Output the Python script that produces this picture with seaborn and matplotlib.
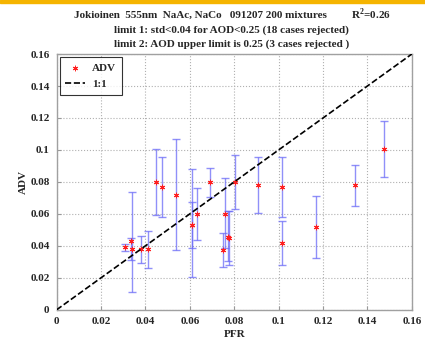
import numpy as np
import pandas as pd
import matplotlib
matplotlib.use("Agg")
import matplotlib.pyplot as plt
import seaborn as sns

# =====================================================
# Data
# =====================================================

pfr = [0.0308, 0.0335, 0.0339, 0.0380, 0.0410, 0.0450, 0.0476, 0.0539,
       0.0610, 0.0610, 0.0633, 0.0691, 0.0750, 0.0757, 0.0770, 0.0777,
       0.0804, 0.0907, 0.1015, 0.1015, 0.1169, 0.1345, 0.1475]
adv = [0.0392, 0.0430, 0.0380, 0.0379, 0.0380, 0.0798, 0.0767, 0.0719,
       0.0531, 0.0531, 0.0600, 0.0798, 0.0375, 0.0600, 0.0458, 0.0452,
       0.0798, 0.0779, 0.0767, 0.0417, 0.0519, 0.0779, 0.1008]
adv_hi = [0.0410, 0.0448, 0.0740, 0.0464, 0.0494, 0.1004, 0.0954, 0.1067,
          0.0880, 0.0673, 0.0765, 0.0890, 0.0480, 0.0823, 0.0619, 0.0619,
          0.0969, 0.0954, 0.0954, 0.0554, 0.0712, 0.0904, 0.1183]
adv_lo = [0.0367, 0.0310, 0.0114, 0.0292, 0.0260, 0.0594, 0.0583, 0.0375,
          0.0208, 0.0386, 0.0438, 0.0708, 0.0267, 0.0386, 0.0306, 0.0281,
          0.0629, 0.0604, 0.0579, 0.0283, 0.0323, 0.0650, 0.0829]

one_to_one = [0.0, 0.16]
tick_vals = [0, 0.02, 0.04, 0.06, 0.08, 0.1, 0.12, 0.14, 0.16]
tick_labels = ["0", "0.02", "0.04", "0.06", "0.08", "0.1", "0.12", "0.14", "0.16"]

title_lines = [
    "Jokioinen  555nm  NaAc, NaCo   091207 200 mixtures",
    "limit 1: std<0.04 for AOD<0.25 (18 cases rejected)",
    "limit 2: AOD upper limit is 0.25 (3 cases rejected )",
]
r2_text = "R$^{\\mathbf{2}}$=0.26"

df = pd.DataFrame({"PFR": pfr, "ADV": adv, "hi": adv_hi, "lo": adv_lo})

# =====================================================
# Style
# =====================================================

sns.set_style("ticks")
plt.rcParams["font.family"] = ["Liberation Serif", "DejaVu Serif"]
plt.rcParams["font.weight"] = "bold"
plt.rcParams["mathtext.fontset"] = "custom"
plt.rcParams["mathtext.rm"] = "Liberation Serif:bold"
plt.rcParams["mathtext.bf"] = "Liberation Serif:bold"

fig = plt.figure(figsize=(4.25, 3.42), dpi=100)
ax = fig.add_axes([0.133, 0.094, 0.836, 0.748])

# orange strip along the top edge
fig.patches.append(plt.Rectangle((0, 0.991), 1, 0.009, transform=fig.transFigure,
                                 color="#f5b400", zorder=0))

# =====================================================
# Plot
# =====================================================

ax.errorbar(df["PFR"], df["ADV"],
            yerr=[df["ADV"] - df["lo"], df["hi"] - df["ADV"]],
            fmt="none", ecolor="#6b6bf7", elinewidth=1.0,
            capsize=3, capthick=1.0, alpha=0.75, zorder=2)

sns.scatterplot(data=df, x="PFR", y="ADV", marker=(6, 2, 0), color="#ff2020",
                s=12, linewidth=0.7, edgecolor="#ff2020", ax=ax,
                label="ADV", zorder=3)

sns.lineplot(x=one_to_one, y=one_to_one, color="black", linestyle="--",
             linewidth=1.2, ax=ax, label="1:1", zorder=4)

ax.set_xlim(0, 0.16)
ax.set_ylim(0, 0.16)
ax.set_xticks(tick_vals)
ax.set_yticks(tick_vals)
ax.set_xticklabels(tick_labels, fontsize=8, fontweight="bold")
ax.set_yticklabels(tick_labels, fontsize=8, fontweight="bold")
ax.tick_params(direction="in", length=3, color="#999999", pad=5)

ax.grid(True, linestyle=":", color="#b0b0b0", linewidth=0.8)
for side in ax.spines.values():
    side.set_color("#a0a0a0")
    side.set_linewidth(1.0)

ax.set_xlabel("PFR", fontsize=8, fontweight="bold", labelpad=3)
ax.set_ylabel("ADV", fontsize=8, fontweight="bold", labelpad=2)

leg = ax.legend(loc="upper left", fontsize=8, frameon=True, fancybox=False,
                edgecolor="black", borderpad=0.5, handlelength=1.8,
                handletextpad=0.6, labelspacing=0.6,
                bbox_to_anchor=(0.0, 1.0), borderaxespad=0.3)
leg.get_frame().set_linewidth(0.8)
for t in leg.get_texts():
    t.set_fontweight("bold")

# =====================================================
# Title
# =====================================================

fig.text(0.472, 0.955, title_lines[0], ha="center", va="center",
         fontsize=8, fontweight="bold")
fig.text(0.872, 0.958, r2_text, ha="center", va="center",
         fontsize=8, fontweight="bold")
fig.text(0.545, 0.912, title_lines[1], ha="center", va="center",
         fontsize=8, fontweight="bold")
fig.text(0.545, 0.872, title_lines[2], ha="center", va="center",
         fontsize=8, fontweight="bold")

fig.savefig("out.png", dpi=100)
plt.close()
